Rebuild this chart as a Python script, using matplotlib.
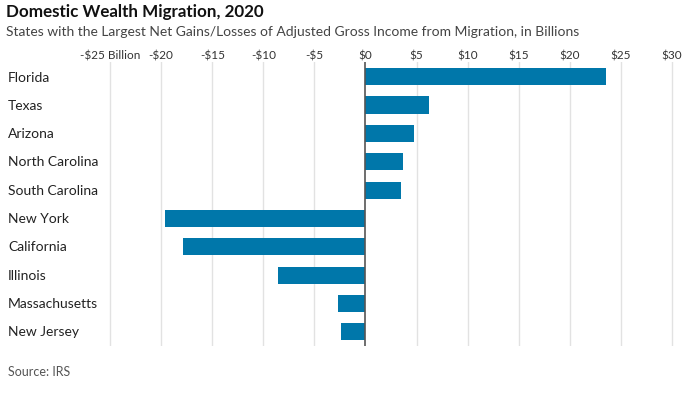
import matplotlib
matplotlib.use("Agg")
import matplotlib.pyplot as plt

plt.rcParams["font.family"] = ["Lato", "DejaVu Sans"]

# data (billions of dollars)
states = ["Florida", "Texas", "Arizona", "North Carolina", "South Carolina",
          "New York", "California", "Illinois", "Massachusetts", "New Jersey"]
net_agi = [23.5, 6.2, 4.75, 3.7, 3.5, -19.6, -17.9, -8.6, -2.7, -2.35]
tick_vals = [-25, -20, -15, -10, -5, 0, 5, 10, 15, 20, 25, 30]
tick_labels = ["-$25 Billion", "-$20", "-$15", "-$10", "-$5", "$0",
               "$5", "$10", "$15", "$20", "$25", "$30"]

bar_color = "#0077aa"

fig = plt.figure(figsize=(6.9, 3.97), dpi=100)
ax = fig.add_axes([0.1522, 0.1287, 0.829, 0.7139])

ypos = list(range(len(states)))
ax.barh(ypos, net_agi, height=0.6, color=bar_color, zorder=3)

ax.set_xlim(-25.5, 30.5)
ax.set_ylim(9.5, -0.5)
ax.set_yticks([])
ax.set_xticks(tick_vals)
ax.set_xticklabels(tick_labels)
ax.xaxis.tick_top()
ax.tick_params(axis="x", length=0, pad=1, labelsize=8.5, colors="#333333")

for v in tick_vals:
    if v == 0:
        ax.axvline(0, color="#555555", lw=1.2, zorder=4)
    else:
        ax.axvline(v, color="#e2e2e2", lw=1, zorder=1)

for s in ax.spines.values():
    s.set_visible(False)

# state labels on the left
for i, name in enumerate(states):
    fig.text(8 / 690, 1 - (77.5 + 28.33 * i) / 397, name, ha="left", va="center",
             fontsize=10, color="#222222")

title = fig.text(6 / 690, 1 - 12 / 397, "Domestic Wealth Migration, 2020", ha="left",
                 va="center", fontsize=13, fontweight="bold", color="#111111")
sub = fig.text(6 / 690, 1 - 32 / 397,
               "States with the Largest Net Gains/Losses of Adjusted Gross Income from Migration, in Billions",
               ha="left", va="center", fontsize=10, color="#444444")
fig.text(8 / 690, 1 - 372 / 397, "Source: IRS", ha="left", va="center",
         fontsize=9, color="#555555")

# scale title and subtitle so they span the same width as the original
r = fig.canvas.get_renderer()
for t, w in [(title, 259), (sub, 574)]:
    cur = t.get_window_extent(r).width
    t.set_fontsize(t.get_fontsize() * w / cur)

fig.savefig("out.png", dpi=100)
